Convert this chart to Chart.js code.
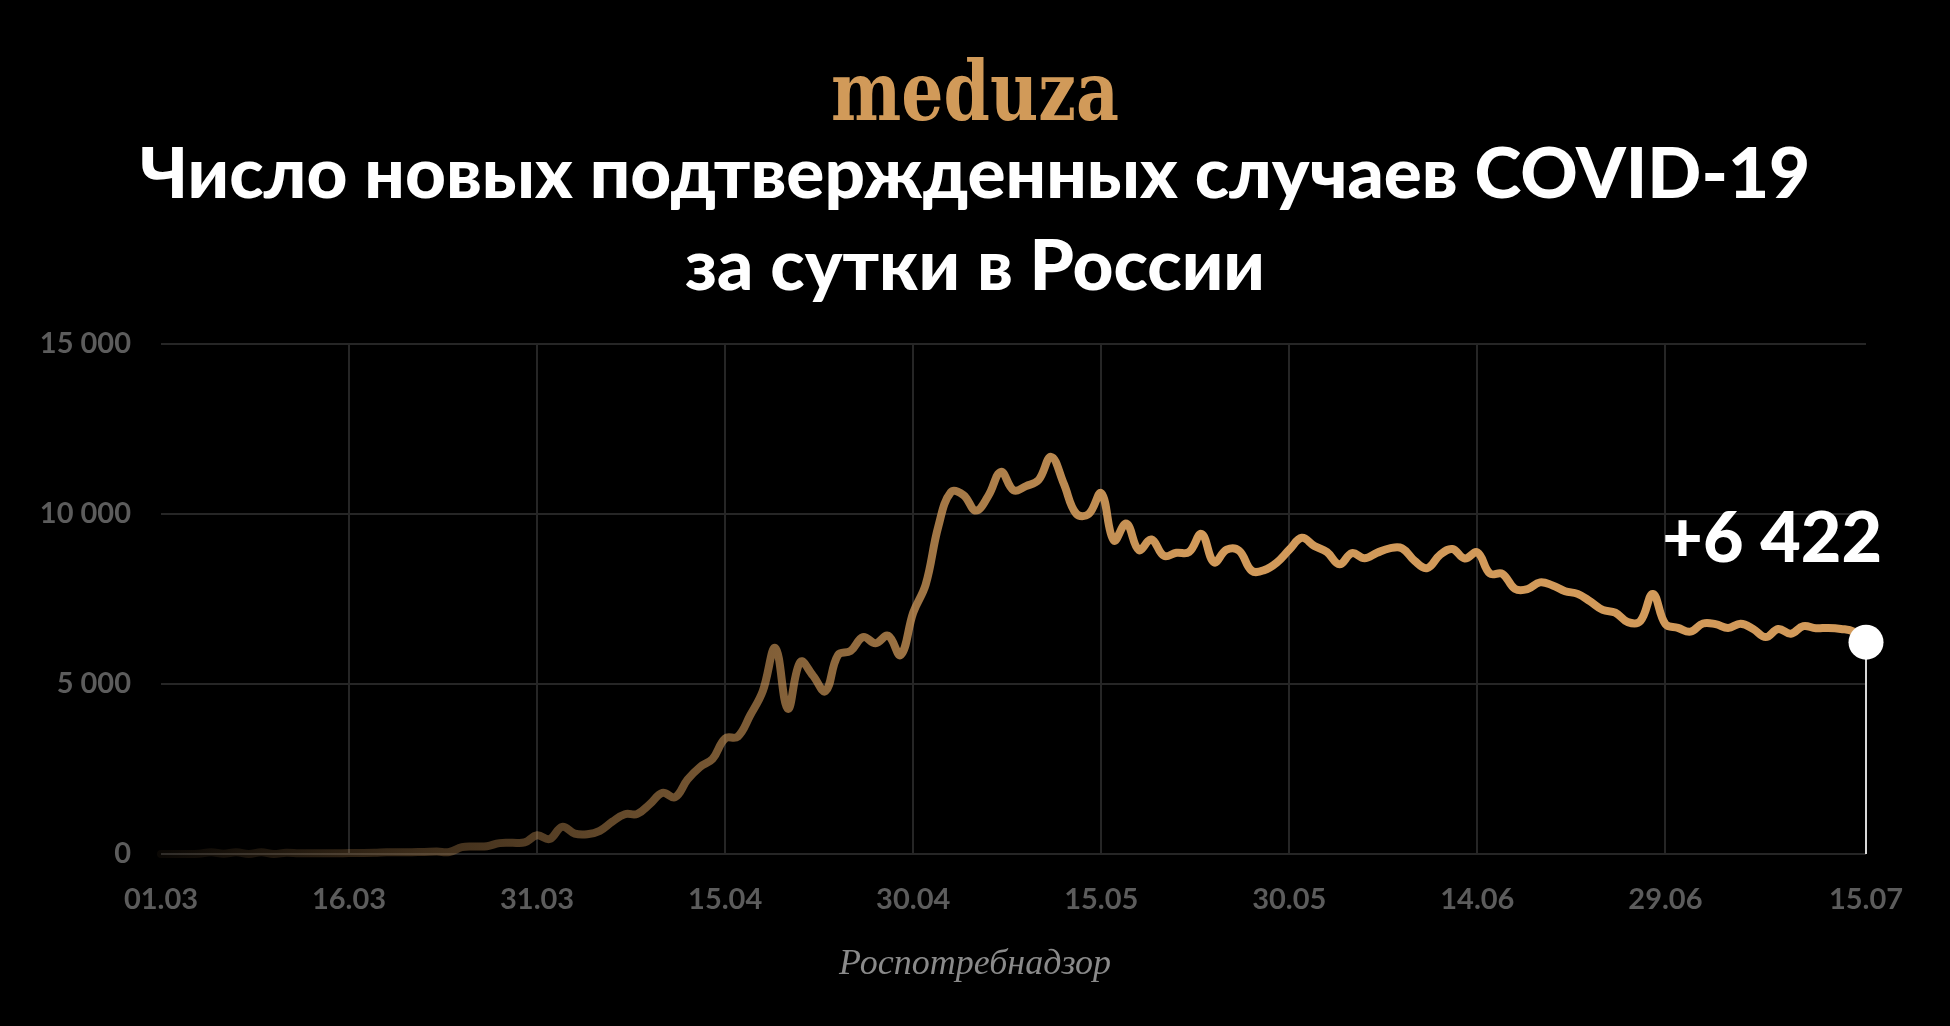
<!DOCTYPE html>
<html lang="ru">
<head>
<meta charset="utf-8">
<title>Число новых подтвержденных случаев COVID-19 за сутки в России</title>
<script src="https://cdn.jsdelivr.net/npm/chart.js@4.4.1/dist/chart.umd.min.js"></script>
<style>
    html, body { margin: 0; padding: 0; background: #000; }
    body { width: 1950px; height: 1026px; position: relative; overflow: hidden; }
    #logo {
        position: absolute; left: 0; top: 50px; width: 1950px;
        text-align: center; color: #d19a59;
        font: bold 83px/1 "DejaVu Serif", serif;
        transform: scaleX(0.8);
    }
    #title {
        position: absolute; left: 0; top: 125px; width: 1950px;
        text-align: center; color: #fff; white-space: nowrap;
        font: 900 71px/92px Lato, sans-serif;
    }
    #source {
        position: absolute; left: 0; top: 944px; width: 1950px;
        text-align: center; color: #8a8a8a;
        font: italic 36px/1 "Liberation Serif", serif;
    }
    #wrap { position: absolute; left: 0; top: 0; width: 1950px; height: 1026px; }
</style>
</head>
<body>
<div id="wrap"><canvas id="casesChart"></canvas></div>
<div id="logo">meduza</div>
<div id="title">Число новых подтвержденных случаев COVID-19<br>за сутки в России</div>
<div id="source">Роспотребнадзор</div>

<script>
// daily new cases, 01.03 ... 15.07 (one value per day)
const marchCases = [
    0, 0, 0, 10, 50, 10, 50, 0, 50, 0,
    40, 20, 20, 20, 20, 30, 30, 35, 50, 55,
    55, 60, 70, 60, 200, 220, 230, 320, 330, 340,
    550
];
const aprilCases = [
    440, 800, 600, 580, 680, 950, 1170, 1180, 1470, 1800,
    1670, 2190, 2560, 2800, 3400, 3450, 4080, 4790, 6060, 4270,
    5650, 5250, 4790, 5850, 5970, 6380, 6200, 6420, 5850, 7100
];
const mayCases = [
    7930, 9630, 10640, 10560, 10100, 10540, 11240, 10700, 10820, 11000,
    11680, 10900, 10010, 10000, 10610, 9220, 9720, 8940, 9250, 8770,
    8860, 8880, 9410, 8580, 8950, 8920, 8330, 8350, 8570, 8950,
    9300
];
const juneCases = [
    9060, 8880, 8520, 8850, 8700, 8860, 8990, 8990, 8620, 8410,
    8790, 8970, 8690, 8870, 8250, 8240, 7800, 7790, 7990, 7900,
    7730, 7650, 7430, 7180, 7100, 6820, 6850, 7650, 6760, 6650
];
const julyCases = [
    6540, 6780, 6760, 6650, 6770, 6620, 6380, 6620, 6480, 6700,
    6640, 6650, 6620, 6540, 6230
];

// x axis: day number since 01.03 and its label
const tickDays = [0, 15, 30, 45, 60, 75, 90, 105, 120, 136];
const tickLabels = ['01.03', '16.03', '31.03', '15.04', '30.04', '15.05', '30.05', '14.06', '29.06', '15.07'];
const yTicks = [0, 5000, 10000, 15000];

const latestLabel = '+6 422';

const GOLD = '210, 154, 90';
const GRID = '#262626';
const TICK = '#5c5c5c';

document.addEventListener('DOMContentLoaded', function() {
    const cases = [].concat(marchCases, aprilCases, mayCases, juneCases, julyCases);
    const points = cases.map(function(v, i) { return { x: i, y: v }; });
    const last = points.length - 1;

    // vertical marker under the last point and the big number above it
    const latestMarker = {
        id: 'latestMarker',
        beforeDatasetsDraw(chart) {
            const p = chart.getDatasetMeta(0).data[last];
            const ctx = chart.ctx;
            ctx.save();
            ctx.strokeStyle = '#d8d8d8';
            ctx.lineWidth = 2;
            ctx.beginPath();
            ctx.moveTo(p.x, p.y);
            ctx.lineTo(p.x, chart.chartArea.bottom);
            ctx.stroke();
            ctx.restore();
        },
        afterDatasetsDraw(chart) {
            const p = chart.getDatasetMeta(0).data[last];
            const ctx = chart.ctx;
            ctx.save();
            ctx.fillStyle = '#fff';
            ctx.font = '900 70px Lato, sans-serif';
            ctx.textAlign = 'right';
            ctx.textBaseline = 'alphabetic';
            ctx.fillText(latestLabel, p.x + 16, p.y - 80);
            ctx.restore();
        }
    };

    new Chart(document.getElementById('casesChart'), {
        type: 'line',
        data: {
            datasets: [{
                data: points,
                borderWidth: 8,
                tension: 0.4,
                borderCapStyle: 'round',
                borderJoinStyle: 'round',
                clip: false,
                borderColor: function(context) {
                    const area = context.chart.chartArea;
                    if (!area) return 'rgb(' + GOLD + ')';
                    const g = context.chart.ctx.createLinearGradient(area.left, 0, area.right, 0);
                    g.addColorStop(0, 'rgba(' + GOLD + ', 0.05)');
                    g.addColorStop(0.6, 'rgba(' + GOLD + ', 1)');
                    g.addColorStop(1, 'rgba(' + GOLD + ', 1)');
                    return g;
                },
                pointRadius: function(ctx) { return ctx.dataIndex === last ? 17.5 : 0; },
                pointHoverRadius: function(ctx) { return ctx.dataIndex === last ? 17.5 : 0; },
                pointBackgroundColor: '#fff',
                pointBorderWidth: 0
            }]
        },
        options: {
            responsive: true,
            maintainAspectRatio: false,
            animation: false,
            events: [],
            layout: {
                padding: { top: 344, right: 84, bottom: 0, left: 0 }
            },
            plugins: {
                legend: { display: false },
                tooltip: { enabled: false }
            },
            scales: {
                x: {
                    type: 'linear',
                    min: 0,
                    max: 136,
                    afterFit: function(scale) { scale.height = 172; },
                    afterBuildTicks: function(scale) {
                        scale.ticks = tickDays.map(function(d) { return { value: d }; });
                    },
                    border: { display: false },
                    grid: {
                        drawTicks: false,
                        lineWidth: 2,
                        color: function(ctx) {
                            const v = ctx.tick && ctx.tick.value;
                            return (v === 0 || v === 136) ? 'rgba(0,0,0,0)' : GRID;
                        }
                    },
                    ticks: {
                        padding: 28,
                        color: TICK,
                        font: { family: 'Lato', size: 29, weight: 'bold' },
                        maxRotation: 0,
                        autoSkip: false,
                        callback: function(value) {
                            const i = tickDays.indexOf(value);
                            return i >= 0 ? tickLabels[i] : '';
                        }
                    }
                },
                y: {
                    min: 0,
                    max: 15000,
                    afterFit: function(scale) { scale.width = 161; },
                    afterBuildTicks: function(scale) {
                        scale.ticks = yTicks.map(function(v) { return { value: v }; });
                    },
                    border: { display: false },
                    grid: {
                        drawTicks: false,
                        lineWidth: 2,
                        color: GRID
                    },
                    ticks: {
                        padding: 30,
                        color: TICK,
                        font: { family: 'Lato', size: 29, weight: 'bold' },
                        callback: function(value) {
                            return String(value).replace(/\B(?=(\d{3})+(?!\d))/g, ' ');
                        }
                    }
                }
            }
        },
        plugins: [latestMarker]
    });
});
</script>
</body>
</html>
